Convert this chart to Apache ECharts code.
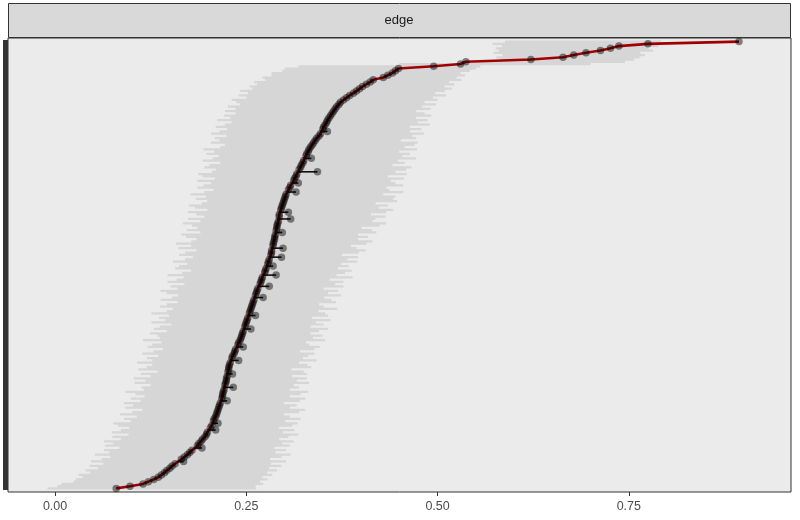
<!DOCTYPE html>
<html><head><meta charset="utf-8">
<script src="https://cdn.jsdelivr.net/npm/echarts@6/dist/echarts.min.js"></script>
<style>html,body{margin:0;padding:0;background:#fff}#c{width:800px;height:520px}</style>
</head><body><div id="c"></div>
<script>
const panelTitle = 'edge';
const xTicks = [0, 0.25, 0.5, 0.75];
// estimate for each rank (rank 1 = bottom)
const estimate = [
0.080,0.098,0.115,0.122,0.129,0.135,0.139,0.143,0.146,0.150,
0.153,0.157,0.161,0.165,0.169,0.173,0.176,0.179,0.183,0.186,
0.188,0.191,0.193,0.196,0.198,0.199,0.201,0.203,0.205,0.206,
0.207,0.208,0.210,0.211,0.212,0.213,0.214,0.215,0.216,0.217,
0.218,0.219,0.219,0.220,0.221,0.221,0.222,0.223,0.224,0.224,
0.225,0.225,0.226,0.227,0.227,0.228,0.229,0.230,0.231,0.232,
0.234,0.235,0.236,0.238,0.239,0.240,0.242,0.243,0.244,0.245,
0.246,0.247,0.248,0.249,0.250,0.251,0.252,0.253,0.254,0.255,
0.256,0.257,0.258,0.259,0.260,0.261,0.262,0.263,0.264,0.265,
0.266,0.268,0.269,0.270,0.271,0.272,0.274,0.275,0.276,0.277,
0.278,0.279,0.280,0.281,0.282,0.283,0.283,0.284,0.285,0.285,
0.286,0.287,0.287,0.288,0.289,0.289,0.290,0.290,0.291,0.292,
0.292,0.293,0.293,0.294,0.295,0.296,0.297,0.298,0.299,0.300,
0.301,0.302,0.304,0.305,0.307,0.308,0.310,0.312,0.313,0.315,
0.316,0.318,0.319,0.321,0.322,0.324,0.325,0.326,0.328,0.329,
0.331,0.332,0.334,0.336,0.338,0.340,0.342,0.345,0.347,0.348,
0.350,0.351,0.353,0.355,0.356,0.358,0.360,0.362,0.364,0.366,
0.368,0.371,0.373,0.377,0.381,0.385,0.390,0.394,0.398,0.402,
0.407,0.412,0.416,0.429,0.435,0.441,0.445,0.449,0.495,0.530,
0.537,0.622,0.664,0.678,0.694,0.713,0.726,0.737,0.775,0.894];
// envelope lower / upper bound for each rank
const lower = [
-0.010,0.003,0.008,0.024,0.027,0.036,0.031,0.046,0.040,0.056,
0.045,0.063,0.047,0.061,0.072,0.052,0.071,0.064,0.084,0.065,
0.076,0.064,0.086,0.075,0.096,0.074,0.086,0.097,0.082,0.076,
0.099,0.090,0.107,0.085,0.101,0.114,0.092,0.102,0.090,0.112,
0.099,0.117,0.105,0.092,0.116,0.113,0.125,0.104,0.118,0.103,
0.125,0.112,0.134,0.109,0.120,0.127,0.107,0.127,0.120,0.135,
0.114,0.129,0.141,0.121,0.127,0.139,0.115,0.137,0.134,0.124,
0.146,0.129,0.137,0.152,0.126,0.144,0.136,0.149,0.126,0.146,
0.154,0.137,0.146,0.160,0.138,0.153,0.161,0.146,0.138,0.160,
0.151,0.169,0.147,0.159,0.168,0.147,0.166,0.178,0.157,0.162,
0.173,0.154,0.170,0.180,0.162,0.170,0.185,0.161,0.178,0.158,
0.178,0.185,0.171,0.165,0.190,0.172,0.186,0.179,0.167,0.190,
0.174,0.195,0.185,0.174,0.199,0.183,0.175,0.192,0.199,0.184,
0.197,0.177,0.195,0.207,0.186,0.194,0.204,0.186,0.209,0.193,
0.187,0.205,0.210,0.195,0.202,0.216,0.193,0.206,0.214,0.198,
0.208,0.194,0.216,0.222,0.204,0.215,0.209,0.224,0.204,0.215,
0.225,0.210,0.222,0.231,0.212,0.229,0.221,0.236,0.222,0.236,
0.226,0.242,0.237,0.231,0.250,0.240,0.252,0.242,0.258,0.254,
0.264,0.260,0.275,0.271,0.283,0.283,0.297,0.300,0.318,0.450,
0.550,0.582,0.577,0.585,0.573,0.580,0.576,0.584,0.572,0.588];
const upper = [
0.263,0.262,0.272,0.268,0.278,0.271,0.284,0.277,0.290,0.280,
0.296,0.282,0.302,0.281,0.296,0.308,0.288,0.302,0.287,0.307,
0.297,0.312,0.293,0.305,0.318,0.298,0.313,0.293,0.310,0.317,
0.301,0.321,0.307,0.299,0.319,0.327,0.307,0.316,0.299,0.320,
0.327,0.307,0.321,0.331,0.307,0.319,0.312,0.332,0.316,0.329,
0.310,0.329,0.325,0.309,0.335,0.330,0.319,0.342,0.324,0.331,
0.339,0.320,0.339,0.346,0.332,0.328,0.353,0.337,0.350,0.334,
0.345,0.357,0.334,0.351,0.341,0.360,0.336,0.357,0.353,0.344,
0.369,0.351,0.345,0.367,0.361,0.352,0.374,0.357,0.370,0.351,
0.377,0.366,0.377,0.359,0.389,0.368,0.379,0.388,0.370,0.384,
0.374,0.395,0.382,0.396,0.375,0.397,0.406,0.394,0.387,0.407,
0.415,0.396,0.409,0.396,0.420,0.414,0.401,0.424,0.433,0.415,
0.419,0.432,0.413,0.433,0.442,0.423,0.435,0.419,0.447,0.442,
0.445,0.429,0.455,0.437,0.433,0.455,0.445,0.439,0.456,0.435,
0.460,0.445,0.459,0.466,0.441,0.457,0.448,0.472,0.454,0.464,
0.450,0.473,0.457,0.470,0.474,0.452,0.472,0.467,0.482,0.464,
0.479,0.464,0.490,0.474,0.487,0.472,0.492,0.483,0.472,0.491,
0.480,0.498,0.483,0.500,0.494,0.511,0.497,0.510,0.519,0.509,
0.522,0.515,0.531,0.525,0.536,0.530,0.542,0.550,0.556,0.700,
0.745,0.757,0.764,0.771,0.765,0.782,0.776,0.789,0.783,0.792];
// ranks whose observed value sits off the line: [rank, observed]
const tailRanks  = [13, 19, 27, 30, 40, 46, 52, 58, 64, 72, 78, 86, 91, 96, 100, 104, 108, 115, 121, 124, 133, 137, 142, 148, 160];
const tailValues = [0.168,0.192,0.210,0.213,0.225,0.233,0.232,0.240,0.246,0.256,0.262,0.272,0.280,0.289,0.285,0.296,0.298,0.297,0.308,0.305,0.315,0.318,0.343,0.335,0.356];

const N = estimate.length;
const ranks = estimate.map((_, i) => i + 1);
const observed = estimate.slice();
tailRanks.forEach((r, k) => { observed[r - 1] = tailValues[k]; });

const lineData = ranks.map((r, i) => [estimate[i], r]);
const pointData = ranks.map((r, i) => [observed[i], r]);
const tailData = tailRanks.map((r, k) => [r, estimate[r - 1], tailValues[k]]);

const chart = echarts.init(document.getElementById('c'), null, {renderer: 'canvas'});
const X_MIN = -0.0615, X_MAX = 0.962;
chart.setOption({
  animation: false,
  backgroundColor: '#ffffff',
  graphic: [
    {type: 'rect', shape: {x: 8.5, y: 3.5, width: 782, height: 34},
     style: {fill: '#D9D9D9', stroke: '#333333', lineWidth: 1}, z: 10},
    {type: 'text', x: 399, y: 20.5, style: {text: panelTitle, fill: '#1A1A1A', font: '13px "Liberation Sans", Arial, sans-serif',
     textAlign: 'center', textVerticalAlign: 'middle'}, z: 11}
  ],
  grid: {left: 8, right: 9, top: 38, bottom: 28, show: true, backgroundColor: '#EBEBEB', borderColor: '#333333', borderWidth: 1},
  xAxis: {
    type: 'value', min: X_MIN, max: X_MAX,
    axisLine: {show: false, onZero: false},
    axisTick: {show: true, customValues: xTicks, length: 4, lineStyle: {color: '#333333', width: 1}},
    axisLabel: {customValues: xTicks, formatter: v => v.toFixed(2), color: '#4D4D4D',
      fontSize: 12.5, fontFamily: '"Liberation Sans", Arial, sans-serif', margin: 8},
    splitLine: {show: false}
  },
  yAxis: {
    type: 'value', min: -0.6, max: N + 1.6,
    axisLine: {show: false, onZero: false},
    axisTick: {show: true, customValues: ranks, length: 5, lineStyle: {color: '#333333', width: 3}},
    axisLabel: {show: false},
    splitLine: {show: false}
  },
  series: [
    {
      type: 'custom', z: 1, silent: true,
      data: [[0]],
      renderItem: (params, api) => {
        const left = [], right = [];
        for (let i = 0; i < N; i++) {
          const r = ranks[i];
          left.push(api.coord([lower[i], r - 0.5]), api.coord([lower[i], r + 0.5]));
          right.push(api.coord([upper[i], r - 0.5]), api.coord([upper[i], r + 0.5]));
        }
        const pts = left.concat(right.reverse());
        return {type: 'polygon', shape: {points: pts}, style: {fill: '#D6D6D6'}};
      }
    },
    {
      type: 'line', z: 2, data: lineData, showSymbol: false, silent: true,
      lineStyle: {color: '#A00000', width: 2.6}
    },
    {
      type: 'custom', z: 3, silent: true, data: tailData,
      renderItem: (params, api) => {
        const r = api.value(0);
        const a = api.coord([api.value(1), r]);
        const b = api.coord([api.value(2), r]);
        return {type: 'line', shape: {x1: a[0], y1: a[1], x2: b[0], y2: b[1]},
          style: {stroke: '#111111', lineWidth: 1.6}};
      },
      encode: {x: [1, 2], y: 0}
    },
    {
      type: 'scatter', z: 4, data: pointData, symbolSize: 7.5, silent: true,
      itemStyle: {color: 'rgba(0,0,0,0.58)'}
    }
  ]
});
</script></body></html>
